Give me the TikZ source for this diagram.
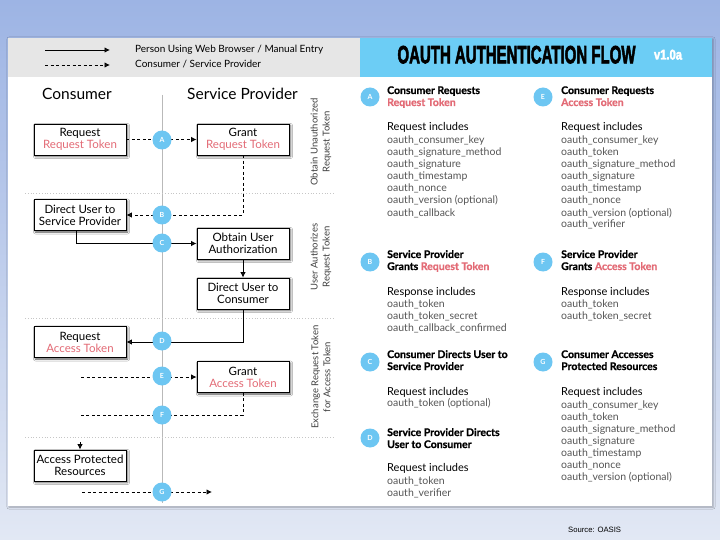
\documentclass[tikz,border=0pt]{standalone}
\usepackage{fontspec}
\usepackage{graphicx}
\setmainfont{Lato}
\newfontfamily\titlefont[FakeBold=3]{Liberation Sans Bold}
\newfontfamily\hdfont{Lato}[BoldFeatures={FakeBold=0.8}]
\newfontfamily\srcfont{Liberation Sans}
\usetikzlibrary{arrows.meta,shadows.blur}
\definecolor{bgtop}{HTML}{9DB4E4}
\definecolor{bgbot}{HTML}{E2E8F4}
\definecolor{hdr}{HTML}{6CCDF5}
\definecolor{bub}{HTML}{6DC6F2}
\definecolor{tok}{HTML}{E36B76}
\definecolor{lgd}{HTML}{E6E6E6}
\definecolor{itm}{HTML}{555555}
\tikzset{
  box/.style={draw=black, line width=0.8pt, fill=white, minimum width=92pt, minimum height=31pt, inner sep=0pt, align=center, font=\fontsize{11.5}{12}\selectfont, blur shadow={shadow xshift=1.5pt, shadow yshift=-1.5pt, shadow blur steps=4, shadow opacity=70}},
  bubble/.style={circle, fill=bub, minimum size=19pt, inner sep=0pt, text=white, font=\bfseries\fontsize{7}{8}\selectfont},
  dflow/.style={dash pattern=on 3pt off 2.5pt, line width=0.9pt},
  sflow/.style={line width=0.9pt},
  arr/.style={-{Latex[length=5.5pt,width=5.5pt]}},
  sepline/.style={draw=gray!45, dotted, line width=0.8pt},
  sidelabel/.style={rotate=90, align=center, text=black!75, inner sep=0pt, font=\fontsize{9.5}{12}\selectfont},
  hdtext/.style={anchor=base west, inner sep=0pt, font=\hdfont\bfseries\fontsize{10.5}{12}\selectfont},
  inctext/.style={anchor=base west, inner sep=0pt, font=\fontsize{11}{12}\selectfont},
  itemtext/.style={anchor=base west, inner sep=0pt, text=itm, font=\fontsize{10.5}{12}\selectfont},
  lgdtext/.style={anchor=base west, inner sep=0pt, font=\fontsize{10}{12}\selectfont},
}
\newcommand\itemlist[4]{%
  \foreach \t [count=\i] in {#4} {\node[itemtext] (#1\i) at (#2,{#3+12*(\i-1)}) {\t};}}
\begin{document}
\begin{tikzpicture}[x=1pt,y=-1pt]
\useasboundingbox (0,0) rectangle (720,540);
% background
\shade[top color=bgtop, bottom color=bgbot] (0,0) rectangle (720,540);
\fill[white, blur shadow={shadow xshift=1pt, shadow yshift=-1pt, shadow opacity=30}] (8,38) rectangle (712,506);
\fill[lgd] (8,38) rectangle (359.5,77);
\fill[hdr] (359.5,38) rectangle (712,77);

% legend
\coordinate (l1a) at (45,50); \coordinate (l1b) at (110,50);
\coordinate (l2a) at (45,65); \coordinate (l2b) at (110,65);
\draw[sflow,arr] (l1a) -- (l1b);
\draw[dflow,arr] (l2a) -- (l2b);
\node[lgdtext] (lg1) at (135,53) {Person Using Web Browser / Manual Entry};
\node[lgdtext] (lg2) at (135,68) {Consumer / Service Provider};

% title
\node[anchor=base, inner sep=0pt] (title) at (516.5,63.3) {\titlefont\fontsize{25}{25}\selectfont\scalebox{0.6}[1]{OAUTH AUTHENTICATION FLOW}};
\node[anchor=base, inner sep=0pt, text=white] (ver) at (668,59.5) {\titlefont\fontsize{14}{14}\selectfont\scalebox{0.8}[1]{v1.0a}};

% column headers
\node[anchor=base, inner sep=0pt, font=\fontsize{15.5}{18}\selectfont] (hCons) at (77,100) {Consumer};
\node[anchor=base, inner sep=0pt, font=\fontsize{15.5}{18}\selectfont] (hSP) at (242.5,100) {Service Provider};

% lifeline and separators
\coordinate (ltop) at (162,95); \coordinate (lbot) at (162,503);
\draw[gray!55, line width=0.8pt] (ltop) -- (lbot);
\coordinate (s1a) at (25,193); \coordinate (s1b) at (335,193);
\coordinate (s2a) at (25,318); \coordinate (s2b) at (335,318);
\coordinate (s3a) at (25,437); \coordinate (s3b) at (335,437);
\draw[sepline] (s1a) -- (s1b);
\draw[sepline] (s2a) -- (s2b);
\draw[sepline] (s3a) -- (s3b);

% side labels
\node[sidelabel] (sd1) at (321,142) {Obtain Unauthorized\\Request Token};
\node[sidelabel] (sd2) at (321,257) {User Authorizes\\Request Token};
\node[sidelabel] (sd3) at (321,377) {Exchange Request Token\\for Access Token};

% boxes
\node[box] (reqRT) at (80,139.5) {Request\\{\color{tok}Request Token}};
\node[box] (grantRT) at (243,139.5) {Grant\\{\color{tok}Request Token}};
\node[box] (dirSP) at (80,215) {Direct User to\\Service Provider};
\node[box] (obtain) at (243,243.5) {Obtain User\\Authorization};
\node[box] (dirC) at (243,293.5) {Direct User to\\Consumer};
\node[box] (reqAT) at (80,342) {Request\\{\color{tok}Access Token}};
\node[box] (grantAT) at (243,377) {Grant\\{\color{tok}Access Token}};
\node[box] (access) at (80,465.5) {Access Protected\\Resources};

% connectors
\draw[dflow,arr] (reqRT) -- (grantRT);
\draw[dflow,arr] (grantRT.south) |- (dirSP.east);
\draw[sflow,arr] ([xshift=-4pt]dirSP.south) |- (obtain.west);
\draw[sflow,arr] (obtain) -- (dirC);
\draw[sflow,arr] (dirC.south) |- (reqAT.east);
\coordinate (eS) at (81,377);
\draw[dflow,arr] (eS) -- (grantAT.west);
\coordinate (fE) at (81,415);
\draw[dflow] (grantAT.south) |- (fE);
\coordinate (aT) at (80,442);
\draw[sflow,arr] (aT) -- (access.north);
\coordinate (gS) at (82,492); \coordinate (gE) at (212,492);
\draw[dflow,arr] (gS) -- (gE);

% bubbles on lifeline
\node[bubble] (bA) at (162,140) {A};
\node[bubble] (bB) at (162,215) {B};
\node[bubble] (bC) at (162,243) {C};
\node[bubble] (bD) at (162,341) {D};
\node[bubble] (bE) at (162,376) {E};
\node[bubble] (bF) at (162,415) {F};
\node[bubble] (bG) at (162,492) {G};

% right panel: A
\node[bubble] (rA) at (370,97) {A};
\node[hdtext] (hA1) at (387,94) {Consumer Requests};
\node[hdtext,text=tok] (hA2) at (387,106) {Request Token};
\node[inctext] (iA) at (387,131) {Request includes};
\itemlist{la}{387}{144}{oauth\_consumer\_key, oauth\_signature\_method, oauth\_signature, oauth\_timestamp, oauth\_nonce, oauth\_version (optional), oauth\_callback}

% E
\node[bubble] (rE) at (543,97) {E};
\node[hdtext] (hE1) at (561,94) {Consumer Requests};
\node[hdtext,text=tok] (hE2) at (561,106) {Access Token};
\node[inctext] (iE) at (561,131) {Request includes};
\itemlist{le}{561}{144}{oauth\_consumer\_key, oauth\_token, oauth\_signature\_method, oauth\_signature, oauth\_timestamp, oauth\_nonce, oauth\_version (optional), oauth\_verifier}

% B
\node[bubble] (rB) at (370,262) {B};
\node[hdtext] (hB1) at (387,258) {Service Provider};
\node[hdtext] (hB2) at (387,270) {Grants {\color{tok}Request Token}};
\node[inctext] (iB) at (387,295) {Response includes};
\itemlist{lb}{387}{307}{oauth\_token, oauth\_token\_secret, oauth\_callback\_confirmed}

% F
\node[bubble] (rF) at (543,262) {F};
\node[hdtext] (hF1) at (561,258) {Service Provider};
\node[hdtext] (hF2) at (561,270) {Grants {\color{tok}Access Token}};
\node[inctext] (iF) at (561,295) {Response includes};
\itemlist{lf}{561}{307}{oauth\_token, oauth\_token\_secret}

% C
\node[bubble] (rC) at (370,362) {C};
\node[hdtext] (hC1) at (387,358) {Consumer Directs User to};
\node[hdtext] (hC2) at (387,370) {Service Provider};
\node[inctext] (iC) at (387,395) {Request includes};
\itemlist{lc}{387}{406}{oauth\_token (optional)}

% D
\node[bubble] (rD) at (370,438) {D};
\node[hdtext] (hD1) at (387,436) {Service Provider Directs};
\node[hdtext] (hD2) at (387,448) {User to Consumer};
\node[inctext] (iD) at (387,471) {Request includes};
\itemlist{ld}{387}{484.5}{oauth\_token, oauth\_verifier}

% G
\node[bubble] (rG) at (543,362) {G};
\node[hdtext] (hG1) at (561,358) {Consumer Accesses};
\node[hdtext] (hG2) at (561,370) {Protected Resources};
\node[inctext] (iG) at (561,395) {Request includes};
\itemlist{lg}{561}{408}{oauth\_consumer\_key, oauth\_token, oauth\_signature\_method, oauth\_signature, oauth\_timestamp, oauth\_nonce, oauth\_version (optional)}

% source
\node[anchor=base west, inner sep=0pt, font=\srcfont\fontsize{7.7}{9}\selectfont] (src) at (568,532) {Source: OASIS};
\end{tikzpicture}
\end{document}
